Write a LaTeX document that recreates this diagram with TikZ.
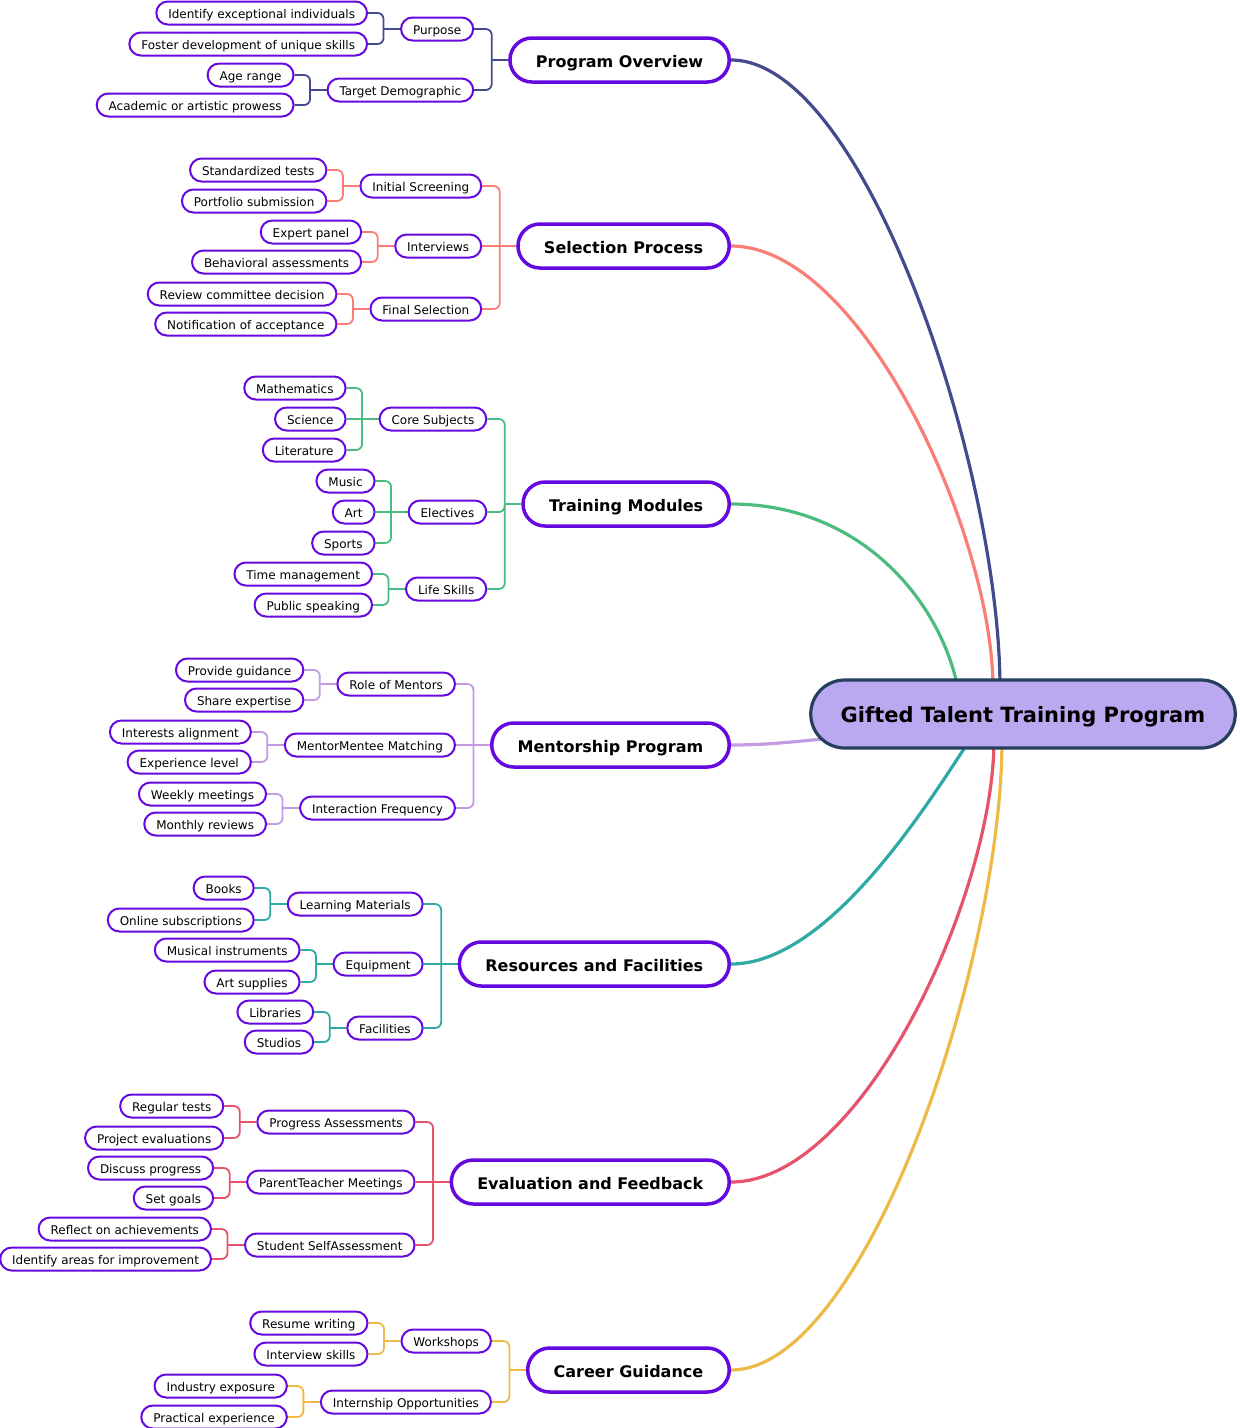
\documentclass[tikz,border=0pt]{standalone}
\usepackage{fontspec}
\setmainfont{DejaVu Sans}
\usetikzlibrary{backgrounds,calc}
\definecolor{npurple}{HTML}{6608E0}
\definecolor{rootfill}{HTML}{BAA9F0}
\definecolor{rootdraw}{HTML}{25405F}
\definecolor{cnavy}{HTML}{434A8E}
\definecolor{csalmon}{HTML}{FA7D76}
\definecolor{cgreen}{HTML}{4CBB80}
\definecolor{clilac}{HTML}{C29BE3}
\definecolor{cteal}{HTML}{2DAAA3}
\definecolor{cred}{HTML}{E5546A}
\definecolor{cyellow}{HTML}{EDBA48}
\tikzset{
  pill/.style={draw=npurple, line width=2pt, fill=white, rounded corners=11.5pt,
    minimum height=23pt, inner xsep=12pt, inner ysep=0pt,
    font=\fontsize{12}{14}\selectfont, text height=12pt, text depth=0.2pt, anchor=east},
  leafbox/.style={pill, xshift=-32pt},
  subbox/.style={pill, xshift=-34pt},
  mainbox/.style={draw=npurple, line width=3.5pt, fill=white, rounded corners=22pt,
    minimum height=44pt, inner xsep=26pt, inner ysep=0pt,
    font=\fontsize{16}{19}\selectfont\bfseries, text height=15pt, text depth=0.3pt, anchor=east},
  rootbox/.style={draw=rootdraw, line width=3.2pt, fill=rootfill, rounded corners=34pt,
    minimum height=68pt, inner xsep=30pt, inner ysep=0pt,
    font=\fontsize{21}{25}\selectfont\bfseries, text height=18pt, text depth=0.4pt},
  bl/.style={line width=1.8pt, rounded corners=6pt},
  curve/.style={line width=3.2pt},
}
\newcommand{\linkto}[3]{\draw[bl,#3] (#1.east) -| ([xshift=-16.5pt]#2.west); \draw[bl,#3] ([xshift=-16.5pt]#2.west) -- (#2.west);}
\newcommand{\linkstraight}[3]{\draw[bl,#3] (#1.east) -- (#2.west);}
\begin{document}
\begin{tikzpicture}[x=1pt,y=-1pt]
\useasboundingbox (0,0) rectangle (1240,1428);

\node[rootbox] (root) at (1023,714) {Gifted Talent Training Program};

% Branch 1
\node[mainbox] (m1) at (731,60) {Program Overview};
\node[subbox] (s11) at (m1.west |- 0,29) {Purpose};
\node[subbox] (s12) at (m1.west |- 0,90) {Target Demographic};
\node[leafbox] (l111) at (s11.west |- 0,13) {Identify exceptional individuals};
\node[leafbox] (l112) at (s11.west |- 0,44) {Foster development of unique skills};
\node[leafbox] (l121) at (s12.west |- 0,75) {Age range};
\node[leafbox] (l122) at (s12.west |- 0,105) {Academic or artistic prowess};

% Branch 2
\node[mainbox] (m2) at (731,246) {Selection Process};
\node[subbox] (s21) at (m2.west |- 0,186) {Initial Screening};
\node[subbox] (s22) at (m2.west |- 0,246) {Interviews};
\node[subbox] (s23) at (m2.west |- 0,309) {Final Selection};
\node[leafbox] (l211) at (s21.west |- 0,170) {Standardized tests};
\node[leafbox] (l212) at (s21.west |- 0,201) {Portfolio submission};
\node[leafbox] (l221) at (s22.west |- 0,232) {Expert panel};
\node[leafbox] (l222) at (s22.west |- 0,262) {Behavioral assessments};
\node[leafbox] (l231) at (s23.west |- 0,294) {Review committee decision};
\node[leafbox] (l232) at (s23.west |- 0,324) {Notification of acceptance};

% Branch 3
\node[mainbox] (m3) at (731,504) {Training Modules};
\node[subbox] (s31) at (m3.west |- 0,419) {Core Subjects};
\node[subbox] (s32) at (m3.west |- 0,512) {Electives};
\node[subbox] (s33) at (m3.west |- 0,589) {Life Skills};
\node[leafbox] (l311) at (s31.west |- 0,388) {Mathematics};
\node[leafbox] (l312) at (s31.west |- 0,419) {Science};
\node[leafbox] (l313) at (s31.west |- 0,450) {Literature};
\node[leafbox] (l321) at (s32.west |- 0,481) {Music};
\node[leafbox] (l322) at (s32.west |- 0,512) {Art};
\node[leafbox] (l323) at (s32.west |- 0,543) {Sports};
\node[leafbox] (l331) at (s33.west |- 0,574) {Time management};
\node[leafbox] (l332) at (s33.west |- 0,605) {Public speaking};

% Branch 4
\node[mainbox] (m4) at (731,745) {Mentorship Program};
\node[subbox] (s41) at (m4.west |- 0,684) {Role of Mentors};
\node[subbox] (s42) at (m4.west |- 0,745) {MentorMentee Matching};
\node[subbox] (s43) at (m4.west |- 0,808) {Interaction Frequency};
\node[leafbox] (l411) at (s41.west |- 0,670) {Provide guidance};
\node[leafbox] (l412) at (s41.west |- 0,700) {Share expertise};
\node[leafbox] (l421) at (s42.west |- 0,732) {Interests alignment};
\node[leafbox] (l422) at (s42.west |- 0,762) {Experience level};
\node[leafbox] (l431) at (s43.west |- 0,794) {Weekly meetings};
\node[leafbox] (l432) at (s43.west |- 0,824) {Monthly reviews};

% Branch 5
\node[mainbox] (m5) at (731,964) {Resources and Facilities};
\node[subbox] (s51) at (m5.west |- 0,904) {Learning Materials};
\node[subbox] (s52) at (m5.west |- 0,964) {Equipment};
\node[subbox] (s53) at (m5.west |- 0,1028) {Facilities};
\node[leafbox] (l511) at (s51.west |- 0,888) {Books};
\node[leafbox] (l512) at (s51.west |- 0,920) {Online subscriptions};
\node[leafbox] (l521) at (s52.west |- 0,950) {Musical instruments};
\node[leafbox] (l522) at (s52.west |- 0,982) {Art supplies};
\node[leafbox] (l531) at (s53.west |- 0,1012) {Libraries};
\node[leafbox] (l532) at (s53.west |- 0,1042) {Studios};

% Branch 6
\node[mainbox] (m6) at (731,1182) {Evaluation and Feedback};
\node[subbox] (s61) at (m6.west |- 0,1122) {Progress Assessments};
\node[subbox] (s62) at (m6.west |- 0,1182) {ParentTeacher Meetings};
\node[subbox] (s63) at (m6.west |- 0,1245) {Student SelfAssessment};
\node[leafbox] (l611) at (s61.west |- 0,1106) {Regular tests};
\node[leafbox] (l612) at (s61.west |- 0,1138) {Project evaluations};
\node[leafbox] (l621) at (s62.west |- 0,1168) {Discuss progress};
\node[leafbox] (l622) at (s62.west |- 0,1198) {Set goals};
\node[leafbox] (l631) at (s63.west |- 0,1229) {Reflect on achievements};
\node[leafbox] (l632) at (s63.west |- 0,1259) {Identify areas for improvement};

% Branch 7
\node[mainbox] (m7) at (731,1370) {Career Guidance};
\node[subbox] (s71) at (m7.west |- 0,1341) {Workshops};
\node[subbox] (s72) at (m7.west |- 0,1402) {Internship Opportunities};
\node[leafbox] (l711) at (s71.west |- 0,1323) {Resume writing};
\node[leafbox] (l712) at (s71.west |- 0,1354) {Interview skills};
\node[leafbox] (l721) at (s72.west |- 0,1386) {Industry exposure};
\node[leafbox] (l722) at (s72.west |- 0,1417) {Practical experience};

\begin{pgfonlayer}{background}
\fill[white] (0,0) rectangle (1240,1428);
% main curves
\draw[curve,cnavy] (m1.east) .. controls (865,60) and (1000,470) .. ([xshift=-23pt,yshift=-10pt]root.north);
\draw[curve,csalmon] (m2.east) .. controls (862,246) and (993,535) .. ([xshift=-30pt,yshift=-10pt]root.north);
\draw[curve,cgreen] (m3.east) .. controls (860,504) and (940,600) .. ([xshift=-65pt,yshift=-10pt]root.north);
\draw[curve,clilac] (m4.east) .. controls (770,745) and (800,741) .. ([xshift=-190pt,yshift=-24pt]root.center);
\draw[curve,cteal] (m5.east) .. controls (830,964) and (930,800) .. ([xshift=-53pt,yshift=10pt]root.south);
\draw[curve,cred] (m6.east) .. controls (862,1182) and (994,895) .. ([xshift=-29pt,yshift=10pt]root.south);
\draw[curve,cyellow] (m7.east) .. controls (866,1370) and (1002,960) .. ([xshift=-21pt,yshift=10pt]root.south);
% branch 1
\linkto{s11}{m1}{cnavy}\linkto{s12}{m1}{cnavy}
\linkto{l111}{s11}{cnavy}\linkto{l112}{s11}{cnavy}
\linkto{l121}{s12}{cnavy}\linkto{l122}{s12}{cnavy}
% branch 2
\linkto{s21}{m2}{csalmon}\linkstraight{s22}{m2}{csalmon}\linkto{s23}{m2}{csalmon}
\linkto{l211}{s21}{csalmon}\linkto{l212}{s21}{csalmon}
\linkto{l221}{s22}{csalmon}\linkto{l222}{s22}{csalmon}
\linkto{l231}{s23}{csalmon}\linkto{l232}{s23}{csalmon}
% branch 3
\linkto{s31}{m3}{cgreen}\linkto{s32}{m3}{cgreen}\linkto{s33}{m3}{cgreen}
\linkto{l311}{s31}{cgreen}\linkstraight{l312}{s31}{cgreen}\linkto{l313}{s31}{cgreen}
\linkto{l321}{s32}{cgreen}\linkstraight{l322}{s32}{cgreen}\linkto{l323}{s32}{cgreen}
\linkto{l331}{s33}{cgreen}\linkto{l332}{s33}{cgreen}
% branch 4
\linkto{s41}{m4}{clilac}\linkstraight{s42}{m4}{clilac}\linkto{s43}{m4}{clilac}
\linkto{l411}{s41}{clilac}\linkto{l412}{s41}{clilac}
\linkto{l421}{s42}{clilac}\linkto{l422}{s42}{clilac}
\linkto{l431}{s43}{clilac}\linkto{l432}{s43}{clilac}
% branch 5
\linkto{s51}{m5}{cteal}\linkstraight{s52}{m5}{cteal}\linkto{s53}{m5}{cteal}
\linkto{l511}{s51}{cteal}\linkto{l512}{s51}{cteal}
\linkto{l521}{s52}{cteal}\linkto{l522}{s52}{cteal}
\linkto{l531}{s53}{cteal}\linkto{l532}{s53}{cteal}
% branch 6
\linkto{s61}{m6}{cred}\linkstraight{s62}{m6}{cred}\linkto{s63}{m6}{cred}
\linkto{l611}{s61}{cred}\linkto{l612}{s61}{cred}
\linkto{l621}{s62}{cred}\linkto{l622}{s62}{cred}
\linkto{l631}{s63}{cred}\linkto{l632}{s63}{cred}
% branch 7
\linkto{s71}{m7}{cyellow}\linkto{s72}{m7}{cyellow}
\linkto{l711}{s71}{cyellow}\linkto{l712}{s71}{cyellow}
\linkto{l721}{s72}{cyellow}\linkto{l722}{s72}{cyellow}
\end{pgfonlayer}
\end{tikzpicture}
\end{document}
